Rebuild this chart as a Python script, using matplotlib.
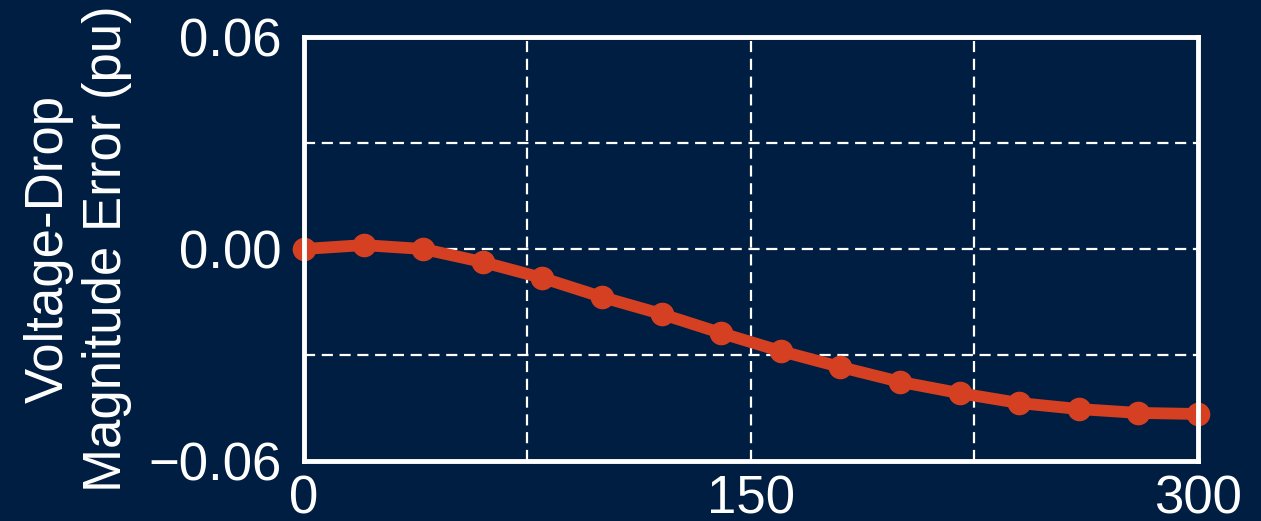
import numpy as np
import matplotlib.pyplot as plt

plt.rcParams['font.family'] = ['Liberation Sans', 'DejaVu Sans']

# data
x_vals = [0, 20, 40, 60, 80, 100, 120, 140, 160, 180, 200, 220, 240, 260, 280, 300]
err_vals = [0.0, 0.0011, 0.0, -0.0037, -0.0082, -0.0136, -0.0184, -0.0238,
            -0.0289, -0.0334, -0.0376, -0.0408, -0.0436, -0.0453, -0.0464, -0.0467]
x_ticks = [0, 150, 300]
y_ticks = [-0.06, 0.0, 0.06]
y_tick_labels = ['\u22120.06', '0.00', '0.06']

bg = '#001E41'
red = '#D64022'

fig = plt.figure(figsize=(12.61, 5.21), dpi=100, facecolor=bg)
ax = fig.add_axes([0.241, 0.1152, 0.709, 0.8138], facecolor=bg)

ax.plot(x_vals, err_vals, color=red, lw=8.5, marker='o', ms=16,
        clip_on=False, zorder=5)

ax.set_xlim(0, 300)
ax.set_ylim(-0.06, 0.06)
ax.set_xticks(x_ticks)
ax.set_yticks(y_ticks)
ax.set_yticklabels(y_tick_labels)
ax.set_xticks([75, 225], minor=True)
ax.set_yticks([-0.03, 0.03], minor=True)

ax.grid(True, which='both', color='white', ls=(0, (5, 3)), lw=1.6)
ax.tick_params(which='both', length=0, colors='white', labelsize=38)
ax.tick_params(axis='y', pad=16)
ax.tick_params(axis='x', pad=10)

for s in ax.spines.values():
    s.set_color('white')
    s.set_linewidth(3.5)
    s.set_zorder(6)

ax.set_ylabel('Voltage-Drop\nMagnitude Error (pu)', color='white', fontsize=38,
              linespacing=1.2, labelpad=12)

fig.savefig('out.png', dpi=100, facecolor=bg)
